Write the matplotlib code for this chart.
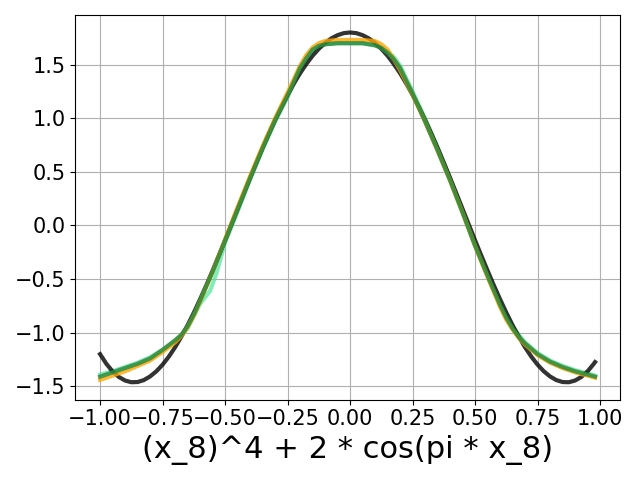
import numpy as np
from matplotlib import pyplot as plt

# true curve (black), sampled every 0.025
x_true = [-1.000, -0.975, -0.950, -0.925, -0.900, -0.875, -0.850, -0.825, -0.800, -0.775,
          -0.750, -0.725, -0.700, -0.675, -0.650, -0.625, -0.600, -0.575, -0.550, -0.525,
          -0.500, -0.475, -0.450, -0.425, -0.400, -0.375, -0.350, -0.325, -0.300, -0.275,
          -0.250, -0.225, -0.200, -0.175, -0.150, -0.125, -0.100, -0.075, -0.050, -0.025,
          0.000, 0.025, 0.050, 0.075, 0.100, 0.125, 0.150, 0.175, 0.200, 0.225,
          0.250, 0.275, 0.300, 0.325, 0.350, 0.375, 0.400, 0.425, 0.450, 0.475,
          0.500, 0.525, 0.550, 0.575, 0.600, 0.625, 0.650, 0.675, 0.700, 0.725,
          0.750, 0.775, 0.800, 0.825, 0.850, 0.875, 0.900, 0.925, 0.950, 0.975, 0.980]
truth = [-1.200, -1.290, -1.361, -1.413, -1.446, -1.462, -1.460, -1.442, -1.408, -1.360,
         -1.298, -1.223, -1.136, -1.037, -0.930, -0.813, -0.688, -0.558, -0.421, -0.281,
         -0.138, 0.008, 0.154, 0.300, 0.444, 0.585, 0.723, 0.856, 0.984, 1.105,
         1.218, 1.323, 1.420, 1.506, 1.583, 1.648, 1.702, 1.745, 1.775, 1.794,
         1.800, 1.794, 1.775, 1.745, 1.702, 1.648, 1.583, 1.506, 1.420, 1.323,
         1.218, 1.105, 0.984, 0.856, 0.723, 0.585, 0.444, 0.300, 0.154, 0.008,
         -0.138, -0.281, -0.421, -0.558, -0.688, -0.813, -0.930, -1.037, -1.136, -1.223,
         -1.298, -1.360, -1.408, -1.442, -1.460, -1.462, -1.446, -1.413, -1.361, -1.290, -1.274]

# fitted curves (orange, dark green)
x_fit = [-1.00, -0.95, -0.90, -0.85, -0.80, -0.75, -0.70, -0.675, -0.65, -0.625,
         -0.60, -0.55, -0.50, -0.45, -0.40, -0.35, -0.30, -0.25, -0.20, -0.175,
         -0.15, -0.125, -0.10, -0.05, 0.00, 0.05, 0.10, 0.125, 0.15, 0.175,
         0.20, 0.25, 0.30, 0.35, 0.40, 0.45, 0.50, 0.55, 0.60, 0.625,
         0.65, 0.675, 0.70, 0.75, 0.80, 0.85, 0.90, 0.95, 0.98]
fit_orange = [-1.44, -1.40, -1.36, -1.31, -1.26, -1.18, -1.09, -1.03, -0.95, -0.84,
              -0.71, -0.43, -0.13, 0.17, 0.46, 0.74, 1.00, 1.24, 1.49, 1.59,
              1.66, 1.70, 1.72, 1.73, 1.73, 1.73, 1.72, 1.69, 1.64, 1.55,
              1.45, 1.22, 0.97, 0.70, 0.42, 0.12, -0.19, -0.48, -0.76, -0.88,
              -0.97, -1.05, -1.11, -1.21, -1.28, -1.33, -1.37, -1.40, -1.42]
fit_dark = [-1.41, -1.37, -1.33, -1.29, -1.24, -1.16, -1.07, -1.02, -0.94, -0.83,
            -0.70, -0.43, -0.14, 0.15, 0.44, 0.72, 0.98, 1.21, 1.47, 1.56,
            1.64, 1.675, 1.69, 1.70, 1.70, 1.70, 1.68, 1.655, 1.61, 1.55,
            1.47, 1.23, 0.97, 0.70, 0.42, 0.12, -0.19, -0.47, -0.74, -0.86,
            -0.96, -1.04, -1.10, -1.20, -1.27, -1.32, -1.36, -1.39, -1.41]

# light green fit, with a small kink near -0.55
x_light = [-1.00, -0.95, -0.90, -0.85, -0.80, -0.75, -0.70, -0.65, -0.60, -0.56,
           -0.535, -0.50, -0.45, -0.40, -0.35, -0.30, -0.25, -0.20, -0.175, -0.15,
           -0.125, -0.10, -0.05, 0.00, 0.05, 0.10, 0.125, 0.15, 0.175, 0.20,
           0.25, 0.30, 0.35, 0.40, 0.45, 0.50, 0.55, 0.60, 0.65, 0.70,
           0.75, 0.80, 0.85, 0.90, 0.95, 0.98]
fit_light = [-1.39, -1.36, -1.32, -1.28, -1.23, -1.16, -1.08, -0.96, -0.73, -0.61,
             -0.45, -0.16, 0.13, 0.43, 0.71, 0.97, 1.20, 1.46, 1.55, 1.63,
             1.67, 1.69, 1.70, 1.70, 1.70, 1.68, 1.66, 1.62, 1.57, 1.49,
             1.25, 1.00, 0.73, 0.44, 0.13, -0.18, -0.46, -0.73, -0.95, -1.09,
             -1.19, -1.26, -1.31, -1.35, -1.38, -1.40]

plt.figure(figsize=(6.4, 4.8), dpi=100)
plt.plot(x_light, fit_light, color='#4fe39a', linewidth=3, alpha=0.7)
plt.plot(x_true, truth, color='black', linewidth=3, alpha=0.8)
plt.plot(x_fit, fit_orange, color='orange', linewidth=3, alpha=0.8)
plt.plot(x_fit, fit_dark, color='#2e8b3e', linewidth=3, alpha=0.85)
plt.grid(True)
plt.xticks(fontsize=15)
plt.yticks(fontsize=15)
plt.xlabel("(x_8)^4 + 2 * cos(pi * x_8)", fontsize=22)
plt.tight_layout()

plt.savefig("out.png")
